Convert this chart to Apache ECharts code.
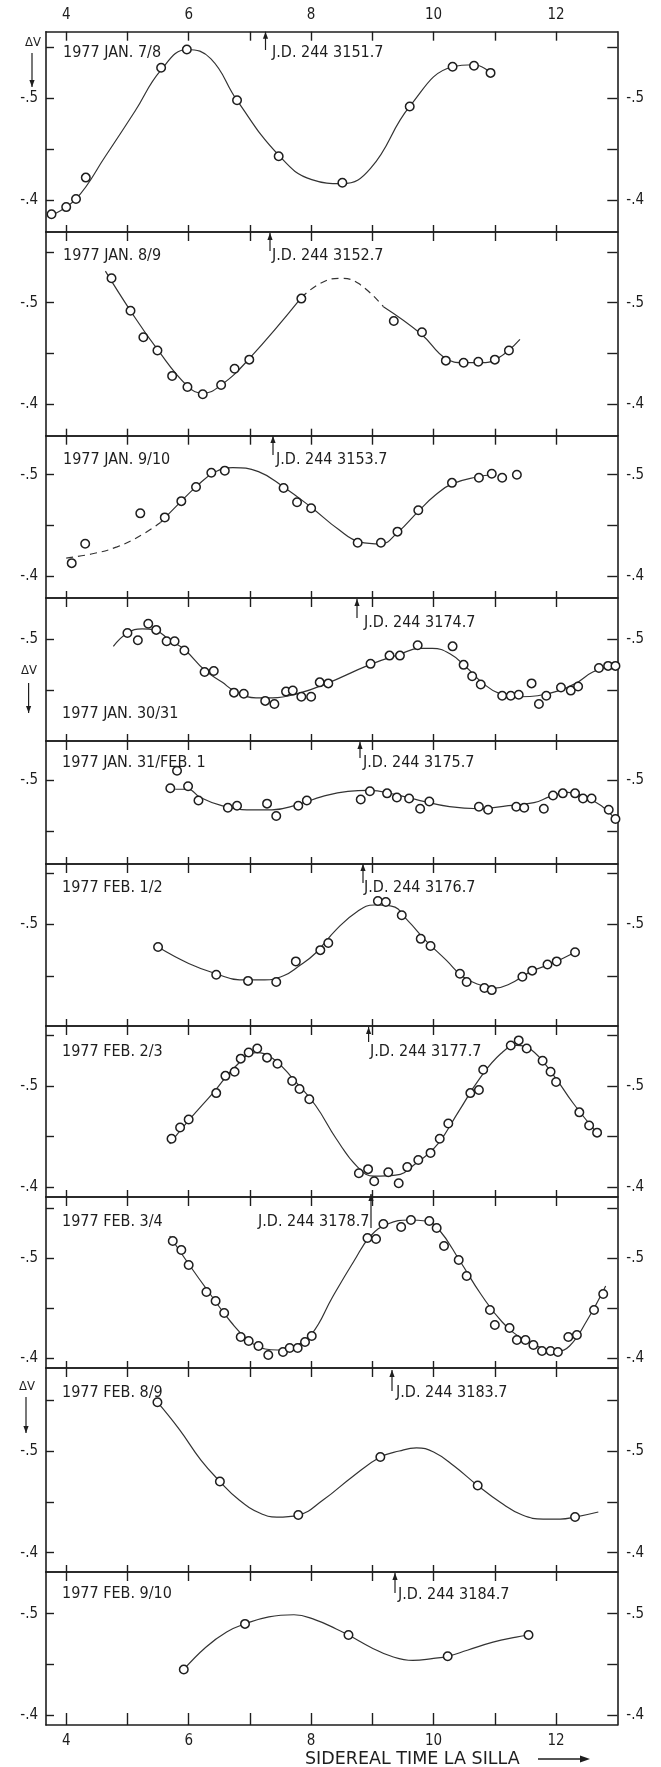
<!DOCTYPE html>
<html><head><meta charset="utf-8">
<script src="https://cdn.jsdelivr.net/npm/echarts@6/dist/echarts.min.js"></script>
<style>html,body{margin:0;padding:0;background:#fff}#c{width:661px;height:1767px}</style>
</head><body><div id="c"></div>
<script>
// ---------- tick / label values ----------
const xTicks = [4,5,6,7,8,9,10,11,12];
const xLabels = [4,6,8,10,12];
const yTicks = [-0.55,-0.5,-0.45,-0.4];
const yLabels = [-0.5,-0.4];
const dateLabels = ['1977 JAN. 7/8','1977 JAN. 8/9','1977 JAN. 9/10','1977 JAN. 30/31','1977 JAN. 31/FEB. 1','1977 FEB. 1/2','1977 FEB. 2/3','1977 FEB. 3/4','1977 FEB. 8/9','1977 FEB. 9/10'];
const jdLabels = ['J.D. 244 3151.7','J.D. 244 3152.7','J.D. 244 3153.7','J.D. 244 3174.7','J.D. 244 3175.7','J.D. 244 3176.7','J.D. 244 3177.7','J.D. 244 3178.7','J.D. 244 3183.7','J.D. 244 3184.7'];
const xTitle = 'SIDEREAL TIME LA SILLA';
const yTitle = 'ΔV';

// ---------- data: observed points (p) and drawn curves (c) ----------
const p1X = [3.76,4.00,4.16,4.32,5.55,5.97,6.79,7.47,8.51,9.61,10.31,10.66,10.93];
const p1Y = [-0.386,-0.393,-0.401,-0.422,-0.530,-0.548,-0.498,-0.443,-0.417,-0.492,-0.531,-0.532,-0.525];
const c1X = [3.76,4.16,4.64,5.12,5.55,5.98,6.36,6.79,7.47,8.01,8.51,8.97,9.61,10.31,10.66,10.93];
const c1Y = [-0.385,-0.401,-0.443,-0.487,-0.528,-0.548,-0.539,-0.498,-0.444,-0.420,-0.416,-0.431,-0.492,-0.531,-0.533,-0.525];

const p2X = [4.74,5.05,5.26,5.49,5.73,5.98,6.23,6.53,6.75,6.99,7.84,9.35,9.81,10.20,10.49,10.73,11.00,11.23];
const p2Y = [-0.524,-0.492,-0.466,-0.453,-0.428,-0.417,-0.410,-0.419,-0.435,-0.444,-0.504,-0.482,-0.471,-0.443,-0.441,-0.442,-0.444,-0.453];
const c2aX = [4.64,5.05,5.49,5.98,6.23,6.53,6.99,7.84];
const c2aY = [-0.531,-0.492,-0.454,-0.418,-0.411,-0.419,-0.445,-0.505];
const c2dX = [7.84,8.15,8.46,8.77,9.18];
const c2dY = [-0.505,-0.519,-0.524,-0.519,-0.496];
const c2bX = [9.18,9.80,10.20,10.49,10.76,11.04,11.41];
const c2bY = [-0.496,-0.469,-0.445,-0.441,-0.441,-0.445,-0.464];

const p3X = [4.09,4.31,5.21,5.61,5.88,6.12,6.37,6.59,7.55,7.77,8.00,8.76,9.14,9.41,9.75,10.30,10.74,10.95,11.12,11.36];
const p3Y = [-0.413,-0.432,-0.462,-0.458,-0.474,-0.488,-0.502,-0.504,-0.487,-0.473,-0.467,-0.433,-0.433,-0.444,-0.465,-0.492,-0.497,-0.501,-0.497,-0.500];
const c3dX = [4.00,4.41,4.83,5.24,5.54];
const c3dY = [-0.418,-0.422,-0.429,-0.441,-0.453];
const c3X = [5.54,5.88,6.12,6.41,6.72,7.14,7.55,8.00,8.45,8.79,9.14,9.41,9.75,10.03,10.30,10.72,10.97];
const c3Y = [-0.453,-0.474,-0.488,-0.502,-0.507,-0.503,-0.488,-0.468,-0.446,-0.434,-0.432,-0.443,-0.464,-0.480,-0.491,-0.498,-0.500];

const p4X = [5.00,5.17,5.34,5.47,5.64,5.77,5.93,6.26,6.41,6.74,6.90,7.25,7.40,7.59,7.70,7.84,8.00,8.14,8.28,8.97,9.28,9.45,9.74,10.31,10.49,10.63,10.77,11.12,11.26,11.39,11.60,11.72,11.84,12.08,12.24,12.36,12.70,12.85,12.97];
const p4Y = [-0.506,-0.499,-0.515,-0.509,-0.498,-0.498,-0.489,-0.468,-0.469,-0.448,-0.447,-0.440,-0.437,-0.449,-0.450,-0.444,-0.444,-0.458,-0.457,-0.476,-0.484,-0.484,-0.494,-0.493,-0.475,-0.464,-0.456,-0.445,-0.445,-0.446,-0.457,-0.437,-0.445,-0.453,-0.450,-0.454,-0.472,-0.474,-0.474];
const c4X = [4.77,5.00,5.24,5.44,5.69,5.93,6.26,6.55,6.74,7.10,7.37,7.78,8.26,8.95,9.43,9.78,9.98,10.26,10.53,10.81,11.08,11.43,11.70,12.05,12.32,12.60,12.94];
const c4Y = [-0.493,-0.506,-0.510,-0.509,-0.499,-0.490,-0.470,-0.458,-0.450,-0.443,-0.443,-0.447,-0.457,-0.475,-0.485,-0.491,-0.491,-0.486,-0.473,-0.457,-0.447,-0.444,-0.445,-0.450,-0.457,-0.468,-0.475];

const p5X = [5.70,5.81,5.99,6.16,6.64,6.79,7.28,7.43,7.79,7.93,8.81,8.96,9.24,9.40,9.60,9.78,9.93,10.74,10.89,11.35,11.48,11.80,11.95,12.11,12.31,12.44,12.58,12.86,12.97];
const p5Y = [-0.492,-0.509,-0.494,-0.480,-0.473,-0.475,-0.477,-0.465,-0.475,-0.480,-0.481,-0.489,-0.487,-0.483,-0.482,-0.472,-0.479,-0.474,-0.471,-0.474,-0.473,-0.472,-0.485,-0.487,-0.487,-0.482,-0.482,-0.471,-0.462];
const c5X = [5.78,5.99,6.19,6.54,6.95,7.36,7.78,8.19,8.60,8.95,9.36,9.78,10.26,10.74,11.22,11.64,11.91,12.19,12.46,12.74,12.97];
const c5Y = [-0.491,-0.491,-0.483,-0.475,-0.471,-0.471,-0.476,-0.484,-0.489,-0.490,-0.486,-0.480,-0.474,-0.472,-0.475,-0.478,-0.484,-0.488,-0.484,-0.475,-0.462];

const p6X = [5.50,6.45,6.97,7.43,7.75,8.15,8.28,9.09,9.22,9.48,9.79,9.95,10.43,10.54,10.83,10.95,11.45,11.61,11.86,12.01,12.31];
const p6Y = [-0.478,-0.451,-0.445,-0.444,-0.464,-0.475,-0.482,-0.523,-0.522,-0.509,-0.486,-0.479,-0.452,-0.444,-0.438,-0.436,-0.449,-0.455,-0.461,-0.464,-0.473];
const c6X = [5.50,6.00,6.45,6.83,7.24,7.55,7.79,8.07,8.41,8.76,9.03,9.31,9.59,9.86,10.21,10.48,10.76,11.00,11.24,11.59,11.93,12.31];
const c6Y = [-0.478,-0.462,-0.452,-0.446,-0.446,-0.450,-0.459,-0.472,-0.495,-0.513,-0.519,-0.518,-0.503,-0.485,-0.465,-0.449,-0.441,-0.438,-0.442,-0.454,-0.462,-0.473];

const p7X = [5.72,5.86,6.00,6.45,6.60,6.75,6.85,6.98,7.12,7.28,7.45,7.69,7.81,7.97,8.78,8.93,9.03,9.26,9.43,9.57,9.75,9.95,10.10,10.24,10.60,10.74,10.81,11.26,11.39,11.52,11.78,11.91,12.00,12.38,12.54,12.67];
const p7Y = [-0.448,-0.459,-0.467,-0.493,-0.510,-0.514,-0.527,-0.533,-0.537,-0.528,-0.522,-0.505,-0.497,-0.487,-0.414,-0.418,-0.406,-0.415,-0.404,-0.420,-0.427,-0.434,-0.448,-0.463,-0.493,-0.496,-0.516,-0.540,-0.545,-0.537,-0.525,-0.514,-0.504,-0.474,-0.461,-0.454];
const c7X = [5.69,6.00,6.41,6.76,7.10,7.38,7.72,8.07,8.41,8.76,9.03,9.38,9.72,10.07,10.41,10.76,11.10,11.35,11.59,11.93,12.28,12.69];
const c7Y = [-0.443,-0.466,-0.494,-0.519,-0.533,-0.527,-0.506,-0.481,-0.448,-0.420,-0.411,-0.412,-0.424,-0.443,-0.475,-0.508,-0.532,-0.540,-0.536,-0.513,-0.483,-0.452];

const p8X = [5.74,5.88,6.00,6.29,6.44,6.58,6.85,6.98,7.14,7.30,7.54,7.65,7.78,7.90,8.01,8.92,9.06,9.18,9.47,9.63,9.93,10.05,10.17,10.41,10.54,10.92,11.00,11.24,11.36,11.50,11.63,11.77,11.91,12.03,12.20,12.34,12.62,12.77];
const p8Y = [-0.517,-0.508,-0.493,-0.466,-0.457,-0.445,-0.421,-0.417,-0.412,-0.403,-0.406,-0.410,-0.410,-0.416,-0.422,-0.520,-0.519,-0.534,-0.531,-0.538,-0.537,-0.530,-0.512,-0.498,-0.482,-0.448,-0.433,-0.430,-0.418,-0.418,-0.413,-0.407,-0.407,-0.406,-0.421,-0.423,-0.448,-0.464];
const c8X = [5.69,6.00,6.35,6.69,6.97,7.25,7.45,7.73,8.01,8.35,8.70,8.97,9.25,9.60,9.87,10.08,10.43,10.77,11.12,11.46,11.81,12.01,12.22,12.50,12.81];
const c8Y = [-0.522,-0.494,-0.464,-0.436,-0.418,-0.409,-0.408,-0.412,-0.424,-0.461,-0.497,-0.522,-0.534,-0.538,-0.537,-0.529,-0.497,-0.464,-0.436,-0.419,-0.409,-0.407,-0.412,-0.437,-0.472];

const p9X = [5.49,6.51,7.79,9.13,10.72,12.31];
const p9Y = [-0.548,-0.470,-0.437,-0.494,-0.466,-0.435];
const c9X = [5.49,5.85,6.20,6.51,6.82,7.16,7.44,7.79,8.20,8.68,9.13,9.44,9.72,10.00,10.34,10.72,11.10,11.45,11.79,12.07,12.31,12.69];
const c9Y = [-0.548,-0.521,-0.491,-0.470,-0.452,-0.439,-0.435,-0.437,-0.452,-0.475,-0.494,-0.500,-0.503,-0.499,-0.485,-0.466,-0.449,-0.437,-0.433,-0.433,-0.435,-0.440];

const p10X = [5.92,6.92,8.61,10.23,11.55];
const p10Y = [-0.445,-0.490,-0.479,-0.458,-0.479];
const c10X = [5.92,6.28,6.62,6.92,7.31,7.72,8.07,8.41,8.61,8.97,9.31,9.66,10.00,10.23,10.55,10.97,11.35,11.55];
const c10Y = [-0.445,-0.467,-0.482,-0.490,-0.497,-0.499,-0.494,-0.485,-0.479,-0.467,-0.458,-0.454,-0.456,-0.458,-0.464,-0.472,-0.477,-0.479];

// ---------- panel composition ----------
const panelPoints = [[p1X,p1Y],[p2X,p2Y],[p3X,p3Y],[p4X,p4Y],[p5X,p5Y],[p6X,p6Y],[p7X,p7Y],[p8X,p8Y],[p9X,p9Y],[p10X,p10Y]];
const panelCurves = [
  [[c1X,c1Y,'solid']],
  [[c2aX,c2aY,'solid'],[c2dX,c2dY,'dashed'],[c2bX,c2bY,'solid']],
  [[c3dX,c3dY,'dashed'],[c3X,c3Y,'solid']],
  [[c4X,c4Y,'solid']],
  [[c5X,c5Y,'solid']],
  [[c6X,c6Y,'solid']],
  [[c7X,c7Y,'solid']],
  [[c8X,c8Y,'solid']],
  [[c9X,c9Y,'solid']],
  [[c10X,c10Y,'solid']]
];

// ---------- layout (pixels) and axis ranges ----------
const edges = [31.7,232,435.7,598,741,864,1026,1197,1368,1572,1725];
const yRange = [[-0.5655,-0.3685],[-0.5695,-0.3692],[-0.5384,-0.3787],[-0.5400,-0.4010],[-0.5380,-0.4182],
                [-0.5590,-0.4010],[-0.5592,-0.3905],[-0.5610,-0.3900],[-0.5816,-0.3810],[-0.5412,-0.3902]];
const xMin = 3.67, xMax = 13.0;
const gridLeft = 46, gridRight = 43.7;
const datePos = [[63,53],[63,256],[63,460],[62,714],[62,763],[62,888],[62,1052],[62,1222],[62,1393],[62,1594]];
const jdPos = [[272,53],[272,256],[276,460],[364,623],[363,763],[364,888],[370,1052],[258,1222],[396,1393],[398,1595]];
const jdArrow = [[265.5,31.7,50],[270,233,251],[273,436,455],[357,599,618],[360,742,758],[363,864,883],[368.6,1027,1042],[371,1194,1228],[392,1370,1391],[395,1573,1593]];
const dvPos = [[33,43,32,53,87],[29,671,28.6,683,713],[27,1387,26,1397,1433]];

const ink = '#1e1e1e';
const FONT = "'DejaVu Sans Condensed','DejaVu Sans',sans-serif";
const FONT_WIDE = "'DejaVu Sans',sans-serif";

const grids = [], xAxes = [], yAxes = [], series = [];
for (let i = 0; i < 10; i++) {
  grids.push({left: gridLeft, right: gridRight, top: edges[i], height: edges[i+1] - edges[i], containLabel: false});
  const [ymin, ymax] = yRange[i];
  const inR = v => v > ymin + 0.004 && v < ymax - 0.004;
  const yt = yTicks.filter(inR), yl = yLabels.filter(inR);
  ['top','bottom'].forEach(pos => {
    const showLab = (i === 0 && pos === 'top') || (i === 9 && pos === 'bottom');
    xAxes.push({
      type:'value', gridIndex:i, position:pos, min:xMin, max:xMax,
      axisLine:{show:true, onZero:false, lineStyle:{color:ink, width:1.6}},
      axisTick:{show:true, inside:true, length: pos==='top' ? 9 : (i===9 ? 12 : 7), customValues:xTicks, lineStyle:{color:ink, width:1.4}},
      axisLabel:{show:showLab, customValues:xLabels, color:ink, fontSize:15, fontFamily:FONT, margin: 9, formatter: v => String(v)},
      splitLine:{show:false}
    });
  });
  ['left','right'].forEach(pos => {
    yAxes.push({
      type:'value', gridIndex:i, position:pos, inverse:true, min:ymin, max:ymax,
      axisLine:{show:true, onZero:false, lineStyle:{color:ink, width:1.6}},
      axisTick:{show:true, inside:true, length: pos==='left' ? 8 : 10, customValues:yt, lineStyle:{color:ink, width:1.4}},
      axisLabel:{show:true, customValues:yl, color:ink, fontSize:15, fontFamily:FONT, margin: pos==='left' ? 8 : 9,
                 formatter: v => '-.' + Math.round(-v*10)},
      splitLine:{show:false}
    });
  });
  panelCurves[i].forEach(([cx, cy, kind]) => {
    series.push({
      type:'line', xAxisIndex:2*i, yAxisIndex:2*i, smooth:0.45, showSymbol:false, silent:true,
      data: cx.map((x, k) => [x, cy[k]]),
      lineStyle:{color:'#333', width:1.2, type: kind === 'dashed' ? [7,5] : 'solid'}, z:2
    });
  });
  const [px, py] = panelPoints[i];
  series.push({
    type:'scatter', xAxisIndex:2*i, yAxisIndex:2*i, symbol:'circle', symbolSize:8.5,
    data: px.map((x, k) => [x, py[k]]),
    itemStyle:{color:'#fff', borderColor:ink, borderWidth:1.5, opacity:1}, z:3
  });
}

// ---------- annotations ----------
const graphic = [];
function txt(t, x, y, size, align, fam) {
  graphic.push({type:'text', x, y, silent:true, z:10,
    style:{text:t, fill:ink, fontSize:size, fontFamily:fam || FONT, align:align || 'left', verticalAlign:'middle'}});
}
function vArrow(x, y1, y2, up) {
  graphic.push({type:'line', silent:true, z:10, shape:{x1:x, y1:y1, x2:x, y2:y2}, style:{stroke:ink, lineWidth:1.2}});
  const hy = up ? y1 : y2, d = up ? 7 : -7;
  graphic.push({type:'polygon', silent:true, z:10, shape:{points:[[x, hy],[x-2.6, hy+d],[x+2.6, hy+d]]}, style:{fill:ink}});
}
for (let i = 0; i < 10; i++) {
  txt(dateLabels[i], datePos[i][0], datePos[i][1], 16);
  txt(jdLabels[i], jdPos[i][0], jdPos[i][1], 16);
  vArrow(jdArrow[i][0], jdArrow[i][1], jdArrow[i][2], true);
}
dvPos.forEach(([tx, ty, ax, a1, a2]) => { txt(yTitle, tx, ty, 13, 'center'); vArrow(ax, a1, a2, false); });
txt(xTitle, 305, 1759, 17.5, 'left', FONT_WIDE);
graphic.push({type:'line', silent:true, z:10, shape:{x1:538, y1:1759, x2:586, y2:1759}, style:{stroke:ink, lineWidth:1.3}});
graphic.push({type:'polygon', silent:true, z:10, shape:{points:[[590,1759],[580,1755.5],[580,1762.5]]}, style:{fill:ink}});

const chart = echarts.init(document.getElementById('c'), null, {renderer:'canvas'});
chart.setOption({
  backgroundColor:'#fff', animation:false,
  grid: grids, xAxis: xAxes, yAxis: yAxes, series: series, graphic: graphic
});
</script>
</body></html>
